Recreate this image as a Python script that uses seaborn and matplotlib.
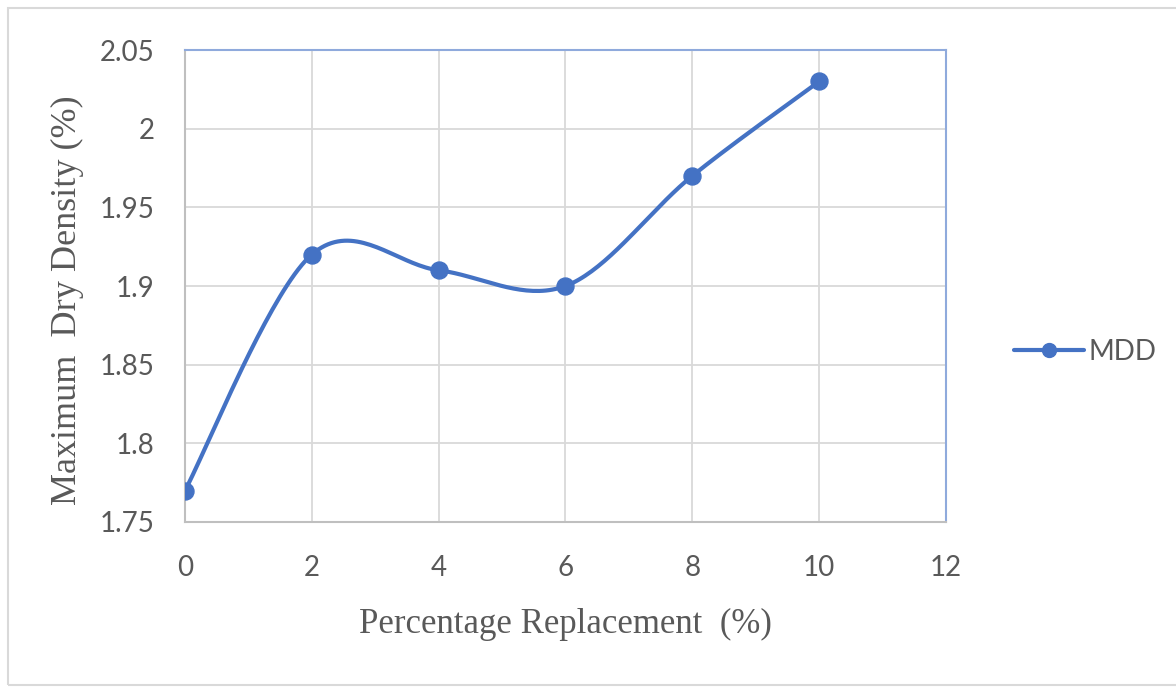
import numpy as np
import pandas as pd
import matplotlib
matplotlib.use("Agg")
import matplotlib.pyplot as plt
import seaborn as sns
from matplotlib.patches import Rectangle

# data
replacement = [0, 2, 4, 6, 8, 10]
mdd = [1.77, 1.92, 1.91, 1.90, 1.97, 2.03]
x_ticks = [0, 2, 4, 6, 8, 10, 12]
y_ticks = [1.75, 1.8, 1.85, 1.9, 1.95, 2.0, 2.05]
y_tick_labels = ['1.75', '1.8', '1.85', '1.9', '1.95', '2', '2.05']

LINE = '#4472C4'
TXT = '#595959'
GRID = '#D9D9D9'


def excel_smooth(x, y, n=40):
    """
    Excel-like smoothed line: cubic bezier through the points,
    control points from neighbouring points (catmull-rom style)
    """
    p = np.column_stack([x, y]).astype(float)
    pts = np.vstack([p[0], p, p[-1]])
    out = []
    t = np.linspace(0, 1, n)[:, None]
    for i in range(1, len(pts) - 2):
        p0, p1, p2, p3 = pts[i - 1], pts[i], pts[i + 1], pts[i + 2]
        c1 = p1 + (p2 - p0) / 6
        c2 = p2 - (p3 - p1) / 6
        seg = ((1 - t) ** 3) * p1 + 3 * ((1 - t) ** 2) * t * c1 \
            + 3 * (1 - t) * t ** 2 * c2 + t ** 3 * p2
        out.append(seg if i == 1 else seg[1:])
    seg = np.vstack(out)
    return seg[:, 0], seg[:, 1]


sns.set_style("white")
plt.rcParams['font.family'] = ['Lato', 'DejaVu Sans']

fig = plt.figure(figsize=(11.76, 6.89), dpi=100)
ax = fig.add_axes([0.1573, 0.2424, 0.6471, 0.685])

sx, sy = excel_smooth(replacement, mdd)
curve = pd.DataFrame({'x': sx, 'y': sy})
sns.lineplot(data=curve, x='x', y='y', sort=False, color=LINE, linewidth=3,
             ax=ax, zorder=3)
df = pd.DataFrame({'pr': replacement, 'mdd': mdd})
sns.scatterplot(data=df, x='pr', y='mdd', color=LINE, s=150, edgecolor=LINE,
                ax=ax, zorder=4)

ax.set_xlim(0, 12)
ax.set_ylim(1.75, 2.05)
ax.set_xticks(x_ticks)
ax.set_yticks(y_ticks)
ax.set_yticklabels(y_tick_labels)
ax.grid(True, color=GRID, linewidth=1.3)
ax.set_axisbelow(True)
ax.tick_params(axis='both', length=0, labelsize=20, colors=TXT)
ax.tick_params(axis='x', pad=24)
ax.tick_params(axis='y', pad=22)

for side in ['left', 'bottom']:
    ax.spines[side].set_color('#BFBFBF')
    ax.spines[side].set_linewidth(1.5)
for side in ['top', 'right']:
    ax.spines[side].set_color('#8FAADC')
    ax.spines[side].set_linewidth(1.5)

ax.set_xlabel('Percentage Replacement  (%)', family=['Liberation Serif'],
              fontsize=25, color=TXT)
ax.set_ylabel('Maximum  Dry Density (%)', family=['Liberation Serif'],
              fontsize=26, color=TXT)
ax.xaxis.set_label_coords(0.5, -0.218)
ax.xaxis.label.set_va('center')
ax.yaxis.set_label_coords(-0.154, 0.47)
ax.yaxis.label.set_va('center')

# legend entry
ax.plot([], [], color=LINE, linewidth=3, marker='o', markersize=10, label='MDD')
leg = ax.legend(loc='center left', bbox_to_anchor=(1.09, 0.36), frameon=False,
                fontsize=20, handlelength=2.5, handletextpad=0.15, borderpad=0,
                borderaxespad=0)
for t in leg.get_texts():
    t.set_color(TXT)

# outer chart frame
fig.patches.append(Rectangle((8 / 1176, 4 / 689), 1.2, 1 - 12 / 689,
                             transform=fig.transFigure, fill=False,
                             edgecolor='#D9D9D9', linewidth=1.5))

fig.savefig('out.png', dpi=100)
